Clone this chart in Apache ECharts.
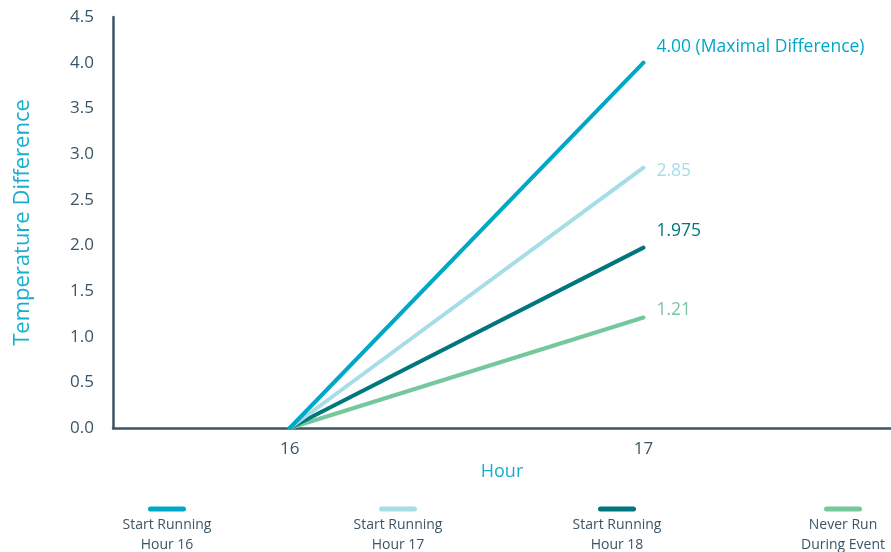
<!DOCTYPE html>
<html>
<head>
<meta charset="utf-8">
<script src="https://cdn.jsdelivr.net/npm/echarts@6/dist/echarts.min.js"></script>
<style>
  html, body { margin: 0; padding: 0; background: #fff; }
  #main { width: 891px; height: 552px; }
</style>
</head>
<body>
<div id="main"></div>
<script>
  // hours on the x axis
  var hours = [16, 17];
  var seriesNames = ['Start Running\nHour 16', 'Start Running\nHour 17', 'Start Running\nHour 18', 'Never Run\nDuring Event'];
  var hour16 = [0, 4.00];
  var hour17 = [0, 2.85];
  var hour18 = [0, 1.975];
  var neverRun = [0, 1.21];
  var endLabels = ['4.00 (Maximal Difference)', '2.85', '1.975', '1.21'];
  var yTicks = [0, 0.5, 1, 1.5, 2, 2.5, 3, 3.5, 4, 4.5];

  var colors = ['#00a8c8', '#a7dde7', '#00777e', '#74c89b'];
  var labelOffsets = [[5, -16], [5, 3], [5, -17], [5, -7]];
  var legendCenters = [167, 398, 617, 843];
  var dark = '#3c5566';
  var font = 'Open Sans';

  var myChart = echarts.init(document.getElementById('main'));

  function pairs(vals) {
    return hours.map(function (h, i) { return [h, vals[i]]; });
  }

  var allVals = [hour16, hour17, hour18, neverRun];

  var legends = seriesNames.map(function (name, i) {
    var rich = {
      t: { width: 110, align: 'center', lineHeight: 20, fontSize: 14, color: dark, fontFamily: font }
    };
    rich.bar = { width: 38, height: 5, lineHeight: 12, backgroundColor: colors[i], borderRadius: 3, align: 'center' };
    return {
      top: 503,
      left: legendCenters[i] - 60,
      padding: 0,
      itemWidth: 0,
      itemHeight: 0,
      icon: 'rect',
      selectedMode: false,
      data: [name],
      formatter: function (n) {
        var parts = n.split('\n');
        return '{bar| }\n{t|' + parts[0] + '}\n{t|' + parts[1] + '}';
      },
      textStyle: { rich: rich }
    };
  });

  var option = {
    textStyle: { fontFamily: font },
    animation: false,
    grid: { left: 113, right: 0, top: 17, bottom: 124 },
    legend: legends,
    xAxis: {
      type: 'value',
      min: 15.5,
      max: 17.7,
      interval: 0.5,
      name: 'Hour',
      nameLocation: 'middle',
      nameGap: 24,
      nameTextStyle: { color: '#18aed0', fontSize: 18, fontFamily: font },
      splitLine: { show: false },
      axisTick: { show: false },
      axisLine: { lineStyle: { color: dark, width: 2.5 } },
      axisLabel: {
        color: dark,
        fontSize: 17,
        margin: 13,
        fontFamily: font,
        showMaxLabel: false,
        showMinLabel: false,
        formatter: function (v) { return hours.indexOf(v) >= 0 ? String(v) : ''; }
      }
    },
    yAxis: {
      type: 'value',
      min: 0,
      max: yTicks[yTicks.length - 1],
      interval: 0.5,
      name: 'Temperature Difference',
      nameLocation: 'middle',
      nameGap: 79,
      nameTextStyle: { color: '#18aed0', fontSize: 22, fontFamily: font },
      splitLine: { show: false },
      axisTick: { show: false },
      axisLine: { show: true, lineStyle: { color: dark, width: 2.5 } },
      axisLabel: {
        color: dark,
        fontSize: 17,
        margin: 19,
        fontFamily: font,
        formatter: function (v) { return v.toFixed(1); }
      }
    },
    series: allVals.map(function (vals, i) {
      return {
        name: seriesNames[i],
        type: 'line',
        data: pairs(vals),
        showSymbol: false,
        color: colors[i],
        lineStyle: { width: 4, color: colors[i], cap: 'round' },
        z: 10 - i,
        endLabel: {
          show: true,
          formatter: endLabels[i],
          color: colors[i],
          fontSize: 17.5,
          fontFamily: font,
          offset: labelOffsets[i]
        }
      };
    })
  };

  myChart.setOption(option);
</script>
</body>
</html>
